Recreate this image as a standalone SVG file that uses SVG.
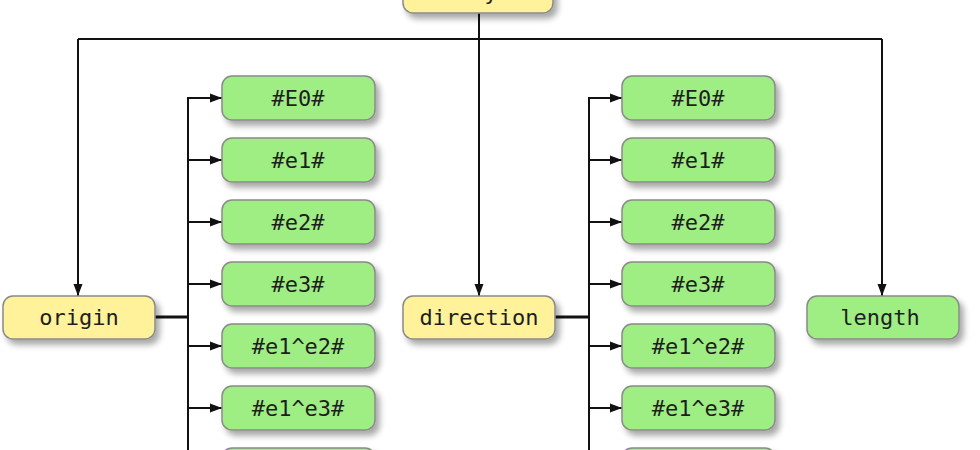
<svg xmlns="http://www.w3.org/2000/svg" width="980" height="450" viewBox="0 0 980 450">
<style>
.n rect{stroke:#8a8a8a;stroke-width:1.5;filter:url(#sh)}
.y rect{fill:#fff29a}
.g rect{fill:#9fee84}
.n text{font-family:"DejaVu Sans Mono","Liberation Mono",monospace;font-size:22px;fill:#1e1e1e;text-anchor:middle}
.c path{fill:none;stroke:#111;stroke-width:2}
.c .t{stroke-width:3}
</style>
<defs>
<filter id="sh" x="-20%" y="-30%" width="150%" height="180%">
<feGaussianBlur in="SourceAlpha" stdDeviation="3"/>
<feOffset dx="4" dy="5" result="b"/>
<feComponentTransfer><feFuncA type="linear" slope="0.35"/></feComponentTransfer>
<feMerge><feMergeNode/><feMergeNode in="SourceGraphic"/></feMerge>
</filter>
<marker id="a" viewBox="0 0 12 10" refX="12" refY="5" markerWidth="12" markerHeight="10" markerUnits="userSpaceOnUse" orient="auto">
<path d="M0,0.5 L12,5 L0,9.5 Z" fill="#111"/>
</marker>
</defs>
<g class="c" id="connectors">
<path d="M479,13 V296" marker-end="url(#a)"/>
<path d="M78,39 H882"/>
<path d="M78,39 V296" marker-end="url(#a)"/>
<path d="M882,39 V296" marker-end="url(#a)"/>
<path class="t" d="M155,317 H188"/>
<path d="M188,97 V450"/>
<path d="M188,98 H222" marker-end="url(#a)"/>
<path d="M188,160 H222" marker-end="url(#a)"/>
<path d="M188,222 H222" marker-end="url(#a)"/>
<path d="M188,284 H222" marker-end="url(#a)"/>
<path d="M188,346 H222" marker-end="url(#a)"/>
<path d="M188,408 H222" marker-end="url(#a)"/>
<path class="t" d="M555,317 H589"/>
<path d="M589,97 V450"/>
<path d="M589,98 H622" marker-end="url(#a)"/>
<path d="M589,160 H622" marker-end="url(#a)"/>
<path d="M589,222 H622" marker-end="url(#a)"/>
<path d="M589,284 H622" marker-end="url(#a)"/>
<path d="M589,346 H622" marker-end="url(#a)"/>
<path d="M589,408 H622" marker-end="url(#a)"/>
</g>
<g id="ray" class="n y"><rect x="403" y="-30" width="150" height="43" rx="10"/><text x="478" y="0">ray</text></g>
<g id="origin" class="n y"><rect x="3" y="296" width="152" height="43" rx="10"/><text x="79" y="325">origin</text></g>
<g id="direction" class="n y"><rect x="403" y="296" width="152" height="43" rx="10"/><text x="479" y="325">direction</text></g>
<g id="length" class="n g"><rect x="807" y="296" width="152" height="43" rx="10"/><text x="880" y="325">length</text></g>
<g id="o_e0" class="n g"><rect x="222" y="76" width="153" height="44" rx="10"/><text x="298" y="106">#E0#</text></g>
<g id="o_e1" class="n g"><rect x="222" y="138" width="153" height="44" rx="10"/><text x="298" y="168">#e1#</text></g>
<g id="o_e2" class="n g"><rect x="222" y="200" width="153" height="44" rx="10"/><text x="298" y="230">#e2#</text></g>
<g id="o_e3" class="n g"><rect x="222" y="262" width="153" height="44" rx="10"/><text x="298" y="292">#e3#</text></g>
<g id="o_e12" class="n g"><rect x="222" y="324" width="153" height="44" rx="10"/><text x="298" y="354">#e1^e2#</text></g>
<g id="o_e13" class="n g"><rect x="222" y="386" width="153" height="44" rx="10"/><text x="298" y="416">#e1^e3#</text></g>
<g id="o_next" class="n g"><rect x="222" y="448" width="153" height="44" rx="10"/></g>
<g id="d_e0" class="n g"><rect x="622" y="76" width="153" height="44" rx="10"/><text x="698" y="106">#E0#</text></g>
<g id="d_e1" class="n g"><rect x="622" y="138" width="153" height="44" rx="10"/><text x="698" y="168">#e1#</text></g>
<g id="d_e2" class="n g"><rect x="622" y="200" width="153" height="44" rx="10"/><text x="698" y="230">#e2#</text></g>
<g id="d_e3" class="n g"><rect x="622" y="262" width="153" height="44" rx="10"/><text x="698" y="292">#e3#</text></g>
<g id="d_e12" class="n g"><rect x="622" y="324" width="153" height="44" rx="10"/><text x="698" y="354">#e1^e2#</text></g>
<g id="d_e13" class="n g"><rect x="622" y="386" width="153" height="44" rx="10"/><text x="698" y="416">#e1^e3#</text></g>
<g id="d_next" class="n g"><rect x="622" y="448" width="153" height="44" rx="10"/></g>
</svg>
